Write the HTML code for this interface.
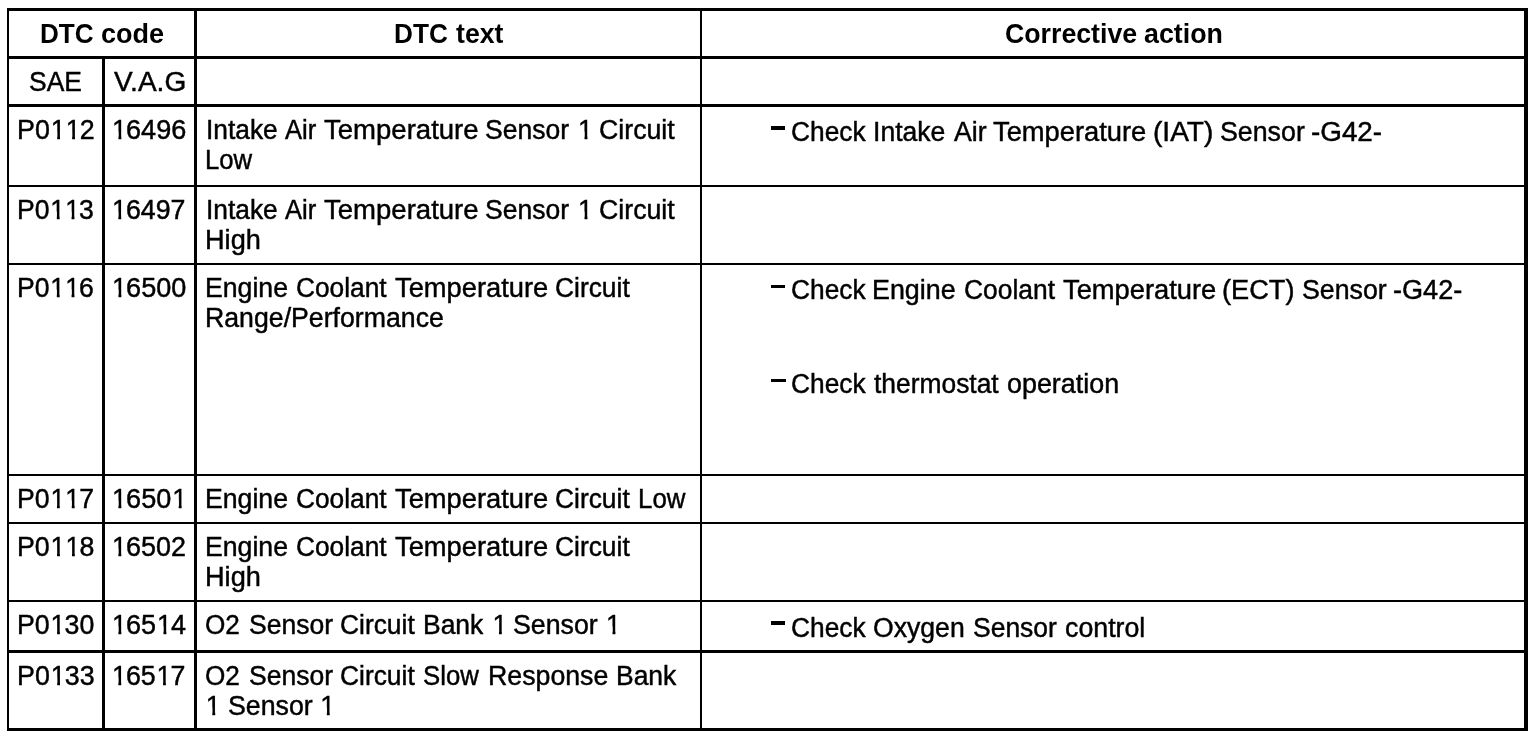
<!DOCTYPE html>
<html lang="en"><head><meta charset="utf-8"><title>DTC table</title>
<style>
html,body{margin:0;padding:0;background:#fff;}
body{width:1536px;height:736px;position:relative;overflow:hidden;font-family:"Liberation Sans",sans-serif;color:#000;}
.l{position:absolute;background:#000;}
.w{position:absolute;white-space:nowrap;font-size:27px;line-height:30px;height:30px;transform-origin:0 0;-webkit-text-stroke:0.45px #000;}
.b{font-weight:bold;-webkit-text-stroke:0;}
#p{position:absolute;left:0;top:0;width:1536px;height:736px;background:#fff;will-change:transform;filter:grayscale(1);}
.o{display:inline-block;position:relative;left:0.9px;clip-path:polygon(0 0,9.4px 0,9.4px 30px,6.58px 30px,6.58px 17px,0 17px);}
</style></head><body><div id="p">
<div class="l" style="left:7px;top:8px;width:1521px;height:3px"></div>
<div class="l" style="left:7px;top:56px;width:1521px;height:3px"></div>
<div class="l" style="left:7px;top:104px;width:1521px;height:3px"></div>
<div class="l" style="left:7px;top:185px;width:1521px;height:2px"></div>
<div class="l" style="left:7px;top:263px;width:1521px;height:2px"></div>
<div class="l" style="left:7px;top:474px;width:1521px;height:2px"></div>
<div class="l" style="left:7px;top:522px;width:1521px;height:2px"></div>
<div class="l" style="left:7px;top:600px;width:1521px;height:2px"></div>
<div class="l" style="left:7px;top:650px;width:1521px;height:3px"></div>
<div class="l" style="left:7px;top:728px;width:1521px;height:3px"></div>
<div class="l" style="left:7px;top:8px;width:2px;height:723px"></div>
<div class="l" style="left:102px;top:56px;width:3px;height:675px"></div>
<div class="l" style="left:194px;top:8px;width:3px;height:723px"></div>
<div class="l" style="left:700px;top:8px;width:2px;height:723px"></div>
<div class="l" style="left:1524px;top:8px;width:4px;height:723px"></div>
<div class="l" style="left:770.6px;top:126.3px;width:14.8px;height:3.6px"></div>
<div class="l" style="left:770.6px;top:285.0px;width:14.8px;height:2.8px"></div>
<div class="l" style="left:771.0px;top:378.5px;width:14.6px;height:3.7px"></div>
<div class="l" style="left:770.6px;top:621.3px;width:14.6px;height:3.8px"></div>
<div class="w b" style="left:39.71px;top:19px;transform:scale(0.9679,1.0)">DTC</div>
<div class="w b" style="left:100.90px;top:19px;transform:scale(1.0000,1.0)">code</div>
<div class="w b" style="left:393.90px;top:19px;transform:scale(0.9698,1.0)">DTC</div>
<div class="w b" style="left:456.25px;top:19px;transform:scale(0.9874,1.0)">text</div>
<div class="w b" style="left:1004.91px;top:19px;transform:scale(0.9890,1.0)">Corrective</div>
<div class="w b" style="left:1144.36px;top:19px;transform:scale(0.9922,1.0)">action</div>
<div class="w" style="left:29.12px;top:66px;transform:scale(0.9788,1.03)">SAE</div>
<div class="w" style="left:114.36px;top:66px;transform:scale(1.0382,1.03)">V.A.G</div>
<div class="w" style="left:16.71px;top:114px;transform:scale(0.9933,1.03)">P0<span class="o">1</span><span class="o">1</span>2</div>
<div class="w" style="left:111.34px;top:114px;transform:scale(1.0021,1.03)"><span class="o">1</span>6496</div>
<div class="w" style="left:16.73px;top:194px;transform:scale(0.9834,1.03)">P0<span class="o">1</span><span class="o">1</span>3</div>
<div class="w" style="left:111.38px;top:194px;transform:scale(0.9908,1.03)"><span class="o">1</span>6497</div>
<div class="w" style="left:16.73px;top:272px;transform:scale(0.9834,1.03)">P0<span class="o">1</span><span class="o">1</span>6</div>
<div class="w" style="left:111.34px;top:272px;transform:scale(1.0028,1.03)"><span class="o">1</span>6500</div>
<div class="w" style="left:16.73px;top:483px;transform:scale(0.9867,1.03)">P0<span class="o">1</span><span class="o">1</span>7</div>
<div class="w" style="left:111.34px;top:483px;transform:scale(1.0028,1.03)"><span class="o">1</span>650<span class="o">1</span></div>
<div class="w" style="left:16.72px;top:531px;transform:scale(0.9900,1.03)">P0<span class="o">1</span><span class="o">1</span>8</div>
<div class="w" style="left:111.36px;top:531px;transform:scale(0.9979,1.03)"><span class="o">1</span>6502</div>
<div class="w" style="left:16.72px;top:609px;transform:scale(0.9900,1.03)">P0<span class="o">1</span>30</div>
<div class="w" style="left:111.35px;top:609px;transform:scale(0.9993,1.03)"><span class="o">1</span>65<span class="o">1</span>4</div>
<div class="w" style="left:16.71px;top:660px;transform:scale(0.9933,1.03)">P0<span class="o">1</span>33</div>
<div class="w" style="left:111.38px;top:660px;transform:scale(0.9908,1.03)"><span class="o">1</span>65<span class="o">1</span>7</div>
<div class="w" style="left:205.71px;top:114px;transform:scale(0.9751,1.03)">Intake</div>
<div class="w" style="left:285.24px;top:114px;transform:scale(0.9485,1.03)">Air</div>
<div class="w" style="left:323.79px;top:114px;transform:scale(1.0200,1.03)">Temperature</div>
<div class="w" style="left:485.32px;top:114px;transform:scale(0.9816,1.03)">Sensor</div>
<div class="w" style="left:577.10px;top:114px;transform:scale(1.0000,1.03)"><span class="o">1</span></div>
<div class="w" style="left:598.76px;top:114px;transform:scale(0.9900,1.03)">Circuit</div>
<div class="w" style="left:205.10px;top:144px;transform:scale(0.9521,1.03)">Low</div>
<div class="w" style="left:205.71px;top:194px;transform:scale(0.9751,1.03)">Intake</div>
<div class="w" style="left:285.24px;top:194px;transform:scale(0.9485,1.03)">Air</div>
<div class="w" style="left:323.79px;top:194px;transform:scale(1.0200,1.03)">Temperature</div>
<div class="w" style="left:485.32px;top:194px;transform:scale(0.9816,1.03)">Sensor</div>
<div class="w" style="left:577.10px;top:194px;transform:scale(1.0000,1.03)"><span class="o">1</span></div>
<div class="w" style="left:598.76px;top:194px;transform:scale(0.9900,1.03)">Circuit</div>
<div class="w" style="left:204.99px;top:224px;transform:scale(1.0058,1.03)">High</div>
<div class="w" style="left:205.02px;top:272px;transform:scale(0.9877,1.03)">Engine</div>
<div class="w" style="left:295.78px;top:272px;transform:scale(0.9733,1.03)">Coolant</div>
<div class="w" style="left:394.99px;top:272px;transform:scale(1.0107,1.03)">Temperature</div>
<div class="w" style="left:555.08px;top:272px;transform:scale(0.9767,1.03)">Circuit</div>
<div class="w" style="left:205.02px;top:302px;transform:scale(0.9885,1.03)">Range/Performance</div>
<div class="w" style="left:205.02px;top:483px;transform:scale(0.9877,1.03)">Engine</div>
<div class="w" style="left:295.78px;top:483px;transform:scale(0.9733,1.03)">Coolant</div>
<div class="w" style="left:394.99px;top:483px;transform:scale(1.0107,1.03)">Temperature</div>
<div class="w" style="left:555.08px;top:483px;transform:scale(0.9767,1.03)">Circuit</div>
<div class="w" style="left:637.88px;top:483px;transform:scale(0.9583,1.03)">Low</div>
<div class="w" style="left:205.02px;top:531px;transform:scale(0.9877,1.03)">Engine</div>
<div class="w" style="left:295.78px;top:531px;transform:scale(0.9733,1.03)">Coolant</div>
<div class="w" style="left:394.99px;top:531px;transform:scale(1.0107,1.03)">Temperature</div>
<div class="w" style="left:555.08px;top:531px;transform:scale(0.9767,1.03)">Circuit</div>
<div class="w" style="left:204.99px;top:561px;transform:scale(1.0058,1.03)">High</div>
<div class="w" style="left:205.43px;top:609px;transform:scale(0.9676,1.03)">O2</div>
<div class="w" style="left:249.12px;top:609px;transform:scale(0.9828,1.03)">Sensor</div>
<div class="w" style="left:339.98px;top:609px;transform:scale(0.9767,1.03)">Circuit</div>
<div class="w" style="left:423.04px;top:609px;transform:scale(0.9800,1.03)">Bank</div>
<div class="w" style="left:491.50px;top:609px;transform:scale(1.0000,1.03)"><span class="o">1</span></div>
<div class="w" style="left:513.11px;top:609px;transform:scale(0.9899,1.03)">Sensor</div>
<div class="w" style="left:605.10px;top:609px;transform:scale(1.0000,1.03)"><span class="o">1</span></div>
<div class="w" style="left:205.43px;top:660px;transform:scale(0.9676,1.03)">O2</div>
<div class="w" style="left:249.12px;top:660px;transform:scale(0.9828,1.03)">Sensor</div>
<div class="w" style="left:339.98px;top:660px;transform:scale(0.9767,1.03)">Circuit</div>
<div class="w" style="left:423.25px;top:660px;transform:scale(0.9541,1.03)">Slow</div>
<div class="w" style="left:487.92px;top:660px;transform:scale(0.9899,1.03)">Response</div>
<div class="w" style="left:615.74px;top:660px;transform:scale(0.9800,1.03)">Bank</div>
<div class="w" style="left:204.90px;top:690px;transform:scale(1.0000,1.03)"><span class="o">1</span></div>
<div class="w" style="left:228.21px;top:690px;transform:scale(0.9899,1.03)">Sensor</div>
<div class="w" style="left:319.40px;top:690px;transform:scale(1.0000,1.03)"><span class="o">1</span></div>
<div class="w" style="left:790.58px;top:116px;transform:scale(0.9743,1.03)">Check</div>
<div class="w" style="left:873.39px;top:116px;transform:scale(0.9836,1.03)">Intake</div>
<div class="w" style="left:954.05px;top:116px;transform:scale(0.9879,1.03)">Air</div>
<div class="w" style="left:993.19px;top:116px;transform:scale(1.0113,1.03)">Temperature</div>
<div class="w" style="left:1152.74px;top:116px;transform:scale(1.0400,1.03)">(IAT)</div>
<div class="w" style="left:1219.91px;top:116px;transform:scale(0.9911,1.03)">Sensor</div>
<div class="w" style="left:1311.27px;top:116px;transform:scale(1.0299,1.03)">-G42-</div>
<div class="w" style="left:790.58px;top:274px;transform:scale(0.9743,1.03)">Check</div>
<div class="w" style="left:872.31px;top:274px;transform:scale(0.9951,1.03)">Engine</div>
<div class="w" style="left:963.68px;top:274px;transform:scale(0.9777,1.03)">Coolant</div>
<div class="w" style="left:1062.69px;top:274px;transform:scale(1.0113,1.03)">Temperature</div>
<div class="w" style="left:1222.39px;top:274px;transform:scale(1.0072,1.03)">(ECT)</div>
<div class="w" style="left:1302.11px;top:274px;transform:scale(0.9899,1.03)">Sensor</div>
<div class="w" style="left:1393.10px;top:274px;transform:scale(1.0030,1.03)">-G42-</div>
<div class="w" style="left:790.58px;top:368px;transform:scale(0.9743,1.03)">Check</div>
<div class="w" style="left:874.06px;top:368px;transform:scale(0.9776,1.03)">thermostat</div>
<div class="w" style="left:1006.80px;top:368px;transform:scale(0.9955,1.03)">operation</div>
<div class="w" style="left:790.58px;top:612px;transform:scale(0.9743,1.03)">Check</div>
<div class="w" style="left:873.11px;top:612px;transform:scale(0.9856,1.03)">Oxygen</div>
<div class="w" style="left:972.92px;top:612px;transform:scale(0.9804,1.03)">Sensor</div>
<div class="w" style="left:1064.71px;top:612px;transform:scale(0.9911,1.03)">control</div>
</div></body></html>
